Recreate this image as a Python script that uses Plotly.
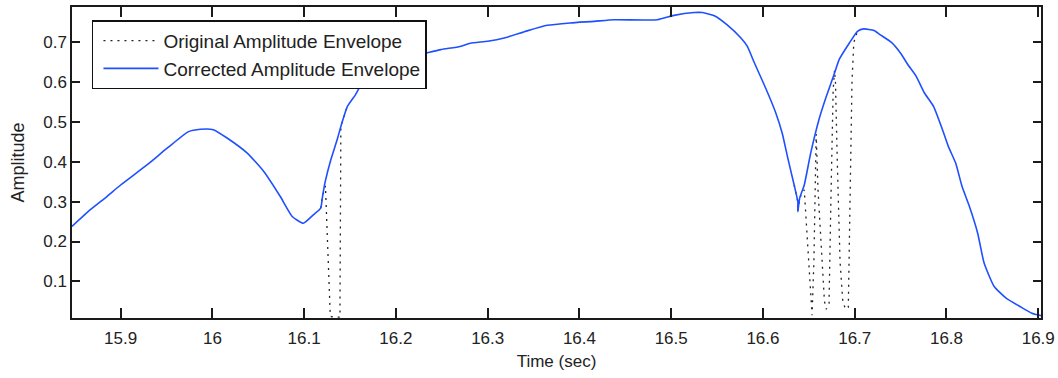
import plotly.graph_objects as go

# Corrected amplitude envelope
corr_t = [15.847, 15.867, 15.885, 15.900, 15.929, 15.951, 15.974, 15.987, 16.001, 16.016,
          16.038, 16.056, 16.074, 16.087, 16.099, 16.110, 16.118, 16.120, 16.123, 16.129,
          16.136, 16.140, 16.147, 16.156, 16.163, 16.174, 16.190, 16.210, 16.230, 16.249,
          16.270, 16.281, 16.300, 16.318, 16.343, 16.365, 16.390, 16.416, 16.438, 16.485,
          16.503, 16.525, 16.534, 16.547, 16.561, 16.576, 16.583, 16.590, 16.603, 16.614,
          16.621, 16.627, 16.634, 16.638, 16.638, 16.640, 16.645, 16.652, 16.661, 16.669,
          16.678, 16.683, 16.694, 16.703, 16.710, 16.721, 16.728, 16.740, 16.750, 16.758,
          16.767, 16.776, 16.786, 16.795, 16.802, 16.810, 16.817, 16.825, 16.834, 16.841,
          16.852, 16.865, 16.880, 16.893, 16.903]
corr_v = [0.238, 0.280, 0.313, 0.342, 0.393, 0.435, 0.476, 0.482, 0.481, 0.460,
          0.422, 0.376, 0.313, 0.263, 0.246, 0.267, 0.284, 0.313, 0.351, 0.405,
          0.456, 0.489, 0.539, 0.569, 0.598, 0.631, 0.650, 0.662, 0.672, 0.682,
          0.690, 0.698, 0.703, 0.711, 0.729, 0.743, 0.749, 0.753, 0.757, 0.757,
          0.768, 0.775, 0.775, 0.767, 0.744, 0.711, 0.690, 0.652, 0.585, 0.523,
          0.472, 0.410, 0.342, 0.300, 0.275, 0.309, 0.342, 0.422, 0.506, 0.564,
          0.623, 0.657, 0.698, 0.728, 0.734, 0.730, 0.719, 0.700, 0.673, 0.644,
          0.615, 0.573, 0.539, 0.485, 0.439, 0.397, 0.338, 0.288, 0.221, 0.146,
          0.087, 0.058, 0.037, 0.020, 0.014]

# Original amplitude envelope where it departs from the corrected one (two notch regions)
orig_t = [16.118, 16.120, 16.1232, 16.1260, 16.1285, 16.1340, 16.1390, 16.1395, 16.1400, 16.147,
          None,
          16.634, 16.638, 16.638, 16.640, 16.645, 16.650, 16.6535, 16.6555, 16.658, 16.660,
          16.664, 16.667, 16.669, 16.672, 16.674, 16.6765, 16.678, 16.679, 16.681, 16.684,
          16.687, 16.690, 16.693, 16.695, 16.697, 16.699, 16.703]
orig_v = [0.284, 0.313, 0.340, 0.170, 0.012, 0.010, 0.010, 0.250, 0.489, 0.539,
          None,
          0.342, 0.300, 0.275, 0.309, 0.330, 0.150, 0.015, 0.150, 0.470, 0.330,
          0.150, 0.050, 0.030, 0.045, 0.300, 0.580, 0.630, 0.600, 0.400, 0.150,
          0.050, 0.030, 0.035, 0.300, 0.600, 0.700, 0.728]

x_ticks = [15.9, 16.0, 16.1, 16.2, 16.3, 16.4, 16.5, 16.6, 16.7, 16.8, 16.9]
x_labels = ["15.9", "16", "16.1", "16.2", "16.3", "16.4", "16.5", "16.6", "16.7", "16.8", "16.9"]
y_ticks = [0.1, 0.2, 0.3, 0.4, 0.5, 0.6, 0.7]
y_labels = ["0.1", "0.2", "0.3", "0.4", "0.5", "0.6", "0.7"]

FONT = "Liberation Sans, Arial, Helvetica, sans-serif"
AX = "#1a1a1a"
TXT = "#222222"

fig = go.Figure()
fig.add_trace(go.Scatter(x=orig_t, y=orig_v, mode="lines", name="Original Amplitude Envelope",
                         legendgroup="a",
                         line=dict(color="#222222", width=1.3, dash="2px,5px"),
                         connectgaps=False))
fig.add_trace(go.Scatter(x=corr_t, y=corr_v, mode="lines", name="Corrected Amplitude Envelope",
                         legendgroup="b",
                         line=dict(color="rgb(30,80,255)", width=1.6, shape="spline", smoothing=0.5)))

fig.update_layout(
    width=1058, height=378,
    margin=dict(l=72, r=17, t=7, b=60),
    paper_bgcolor="white", plot_bgcolor="white",
    font=dict(family=FONT, size=17, color=TXT),
    showlegend=True,
    legend=dict(x=0.0206, y=0.957, xanchor="left", yanchor="top",
                bgcolor="white", bordercolor="#111111", borderwidth=1.5,
                font=dict(family=FONT, size=19, color=TXT),
                itemwidth=55, tracegroupgap=0, traceorder="grouped",
                indentation=5),
)
fig.update_xaxes(range=[15.847, 16.903], tickvals=x_ticks, ticktext=x_labels, automargin=False,
                 showgrid=False, zeroline=False, showline=True, linecolor=AX, linewidth=1.5,
                 mirror="ticks", ticks="inside", ticklen=10, tickcolor=AX, tickwidth=1.5,
                 ticklabelstandoff=4,
                 tickfont=dict(size=17), title=dict(text="Time (sec)", font=dict(size=17), standoff=8))
fig.update_yaxes(range=[0.008, 0.789], tickvals=y_ticks, ticktext=y_labels, automargin=False,
                 showgrid=False, zeroline=False, showline=True, linecolor=AX, linewidth=1.5,
                 mirror="ticks", ticks="inside", ticklen=8, tickcolor=AX, tickwidth=1.5,
                 tickfont=dict(size=17), title=dict(text="Amplitude", font=dict(size=18), standoff=14))

fig.write_html("out.html", config={"displayModeBar": False},
               post_script="document.body.style.margin='0';document.body.style.padding='0';")
